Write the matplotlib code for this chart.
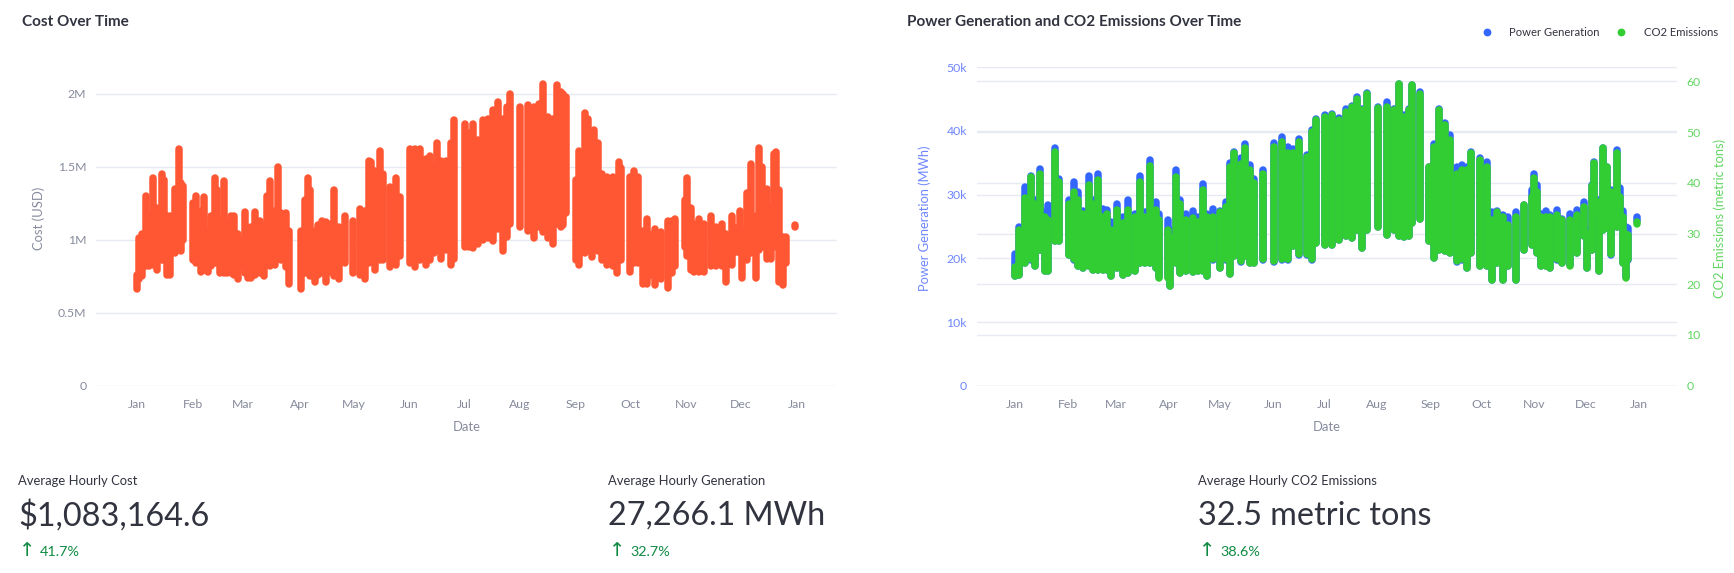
import matplotlib
matplotlib.use('Agg')
import matplotlib.pyplot as plt
from matplotlib.lines import Line2D

W = 1734
H = 573

month_days = [1, 32, 60, 91, 121, 152, 182, 213, 244, 274, 305, 335, 366]
month_names = ['Jan', 'Feb', 'Mar', 'Apr', 'May', 'Jun', 'Jul', 'Aug', 'Sep', 'Oct', 'Nov', 'Dec', 'Jan']

cost_ticks = [0, 0.5, 1, 1.5, 2]
cost_labels = ['0', '0.5M', '1M', '1.5M', '2M']
gen_ticks = [0, 10, 20, 30, 40, 50]
gen_labels = ['0', '10k', '20k', '30k', '40k', '50k']
co2_ticks = [0, 10, 20, 30, 40, 50, 60]

# day of year, then the range of the hourly values over that stretch (million USD)
cost_days = [1, 2.4, 3.9, 6.1, 7.7, 10.1, 12.3, 15.1, 16, 18, 19.7, 22.1, 24.3, 25.8, 26.9,
             32, 34.1, 36.5, 38.1, 40.5, 42.4, 44.2, 45.5, 47.3, 49.2, 51, 53.4, 54.7, 57.1, 58.9,
             60.8, 62.6, 64.5, 66.7, 69.1, 71.3, 73.1, 75, 77.3, 79.2, 81, 83.4, 85.3,
             91.7, 93.9, 95.6, 97, 99.4, 101.3, 103.7, 105.9, 107.7, 110.1, 112.7, 116.2,
             120.6, 124.3, 127.1, 129.5, 130.8, 133.1, 135.4, 137.2, 141.3, 144.6, 146.8,
             152.5, 155.2, 157.8, 161.1, 163.3, 165.7, 167.1, 169.4, 172.1, 175, 176.8,
             182.5, 185.1, 187.3, 189.7, 192.5, 195.2, 198, 201.1, 203.5, 205.7, 207.4,
             213.1, 217.3, 221, 223.8, 226.1, 228.4, 231.5, 233.5, 235.7, 237, 238.6,
             244, 245.9, 249, 250.5, 252.9, 254.1, 256, 258.7, 261.5, 264.3, 266.5, 268, 269,
             273.8, 276.2, 278.6, 280.9, 283.1, 284.5, 287.8, 291, 294.9, 297.4, 299.1,
             304.6, 305.7, 307.5, 309.4, 312.2, 314.9, 318.6, 321.4, 325, 326.9, 330.2, 331.5,
             334.7, 336.1, 338.9, 340.7, 343.5, 345.3, 347.2, 350, 351.8, 353.7, 354.6, 356.4, 358.8, 360.1,
             365.3]
cost_high = [0.76, 1.01, 1.04, 1.30, 1.16, 1.42, 1.22, 1.45, 1.41, 1.16, 1.16, 1.35, 1.62, 1.39, 1.37,
             1.25, 1.30, 1.20, 1.29, 1.06, 1.16, 1.42, 1.34, 1.13, 1.40, 1.11, 1.16, 1.16, 1.04, 1.00,
             1.19, 1.02, 1.09, 1.19, 1.13, 1.09, 1.30, 1.40, 1.20, 1.50, 1.18, 1.18, 1.06,
             1.06, 1.27, 1.42, 1.34, 1.06, 1.10, 1.13, 1.12, 1.11, 1.34, 1.09, 1.16,
             1.13, 1.21, 1.20, 1.54, 1.53, 1.47, 1.61, 1.45, 1.36, 1.42, 1.29,
             1.62, 1.62, 1.62, 1.55, 1.57, 1.50, 1.66, 1.54, 1.54, 1.66, 1.82,
             1.79, 1.73, 1.79, 1.68, 1.82, 1.83, 1.89, 1.94, 1.83, 1.91, 2.00,
             1.91, 1.92, 1.91, 1.93, 2.07, 1.84, 1.83, 2.06, 2.01, 2.00, 1.98,
             1.41, 1.61, 1.87, 1.83, 1.70, 1.75, 1.66, 1.45, 1.43, 1.43, 1.41, 1.53, 1.49,
             1.43, 1.47, 1.43, 1.06, 1.14, 1.04, 1.07, 1.05, 1.13, 1.13, 1.14,
             1.27, 1.42, 1.22, 1.11, 1.14, 1.11, 1.16, 1.09, 1.11, 1.04, 1.16, 1.09,
             1.20, 1.06, 1.32, 1.52, 1.16, 1.63, 1.50, 1.35, 1.22, 1.59, 1.60, 1.34, 1.02, 1.02,
             1.10]
cost_low = [0.66, 0.73, 0.75, 0.82, 0.82, 0.83, 0.79, 0.86, 0.86, 0.76, 0.76, 0.91, 1.02, 0.92, 1.00,
            0.86, 0.84, 0.78, 0.79, 0.78, 0.82, 0.84, 0.84, 0.77, 0.77, 0.77, 0.77, 0.76, 0.73, 0.82,
            0.77, 0.74, 0.74, 0.76, 0.77, 0.75, 0.84, 0.82, 0.83, 0.93, 0.86, 0.81, 0.70,
            0.66, 0.77, 0.82, 0.75, 0.71, 0.76, 0.77, 0.71, 0.78, 0.75, 0.73, 0.84,
            0.77, 0.76, 0.73, 0.84, 0.86, 0.79, 0.86, 0.86, 0.81, 0.83, 0.89,
            0.84, 0.81, 0.86, 0.83, 0.86, 0.91, 0.93, 0.87, 0.93, 0.83, 0.87,
            0.95, 0.95, 0.94, 0.97, 1.00, 1.01, 0.99, 1.07, 0.92, 1.02, 1.11,
            1.09, 1.06, 1.01, 1.09, 1.05, 1.01, 0.97, 1.11, 1.09, 1.10, 1.18,
            0.86, 0.83, 0.91, 0.93, 0.88, 0.95, 0.92, 0.86, 0.83, 0.82, 0.77, 0.86, 0.86,
            0.78, 0.84, 0.84, 0.70, 0.70, 0.75, 0.69, 0.73, 0.67, 0.77, 0.82,
            0.95, 0.89, 0.79, 0.78, 0.78, 0.78, 0.82, 0.82, 0.82, 0.71, 0.83, 0.91,
            0.91, 0.74, 0.86, 0.91, 0.74, 0.93, 0.95, 0.87, 0.87, 0.95, 1.02, 0.71, 0.69, 0.84,
            1.09]

# same idea for generation (thousand MWh) and emissions (metric tons)
gen_days = [1, 3.5, 7, 10.5, 13, 15.7, 18.5, 20.4, 24.5, 27,
            32.8, 35.6, 38.1, 41, 44.5, 46.8, 49.6, 52.7, 55, 57.5,
            60.8, 64.3, 67.2, 71.1, 74.1, 77, 79.9, 83.8, 85.3, 90.6,
            92.1, 95.4, 97.8, 101.3, 105.2, 108, 111, 113.5, 116.8, 121,
            124.6, 126.9, 129.4, 133.3, 135.9, 138.6, 141.1, 146.2, 152.8, 157.3,
            160.9, 163.5, 167.4, 172.2, 175.1, 177.5, 182.3, 186.8, 190.7, 194.6,
            198.4, 201.4, 203.9, 207.2, 213.4, 218.9, 222.8, 225.7, 228.6, 231.5,
            233.5, 238.3, 243.5, 246, 248.9, 252.8, 255.8, 259.7, 262.6, 265.5,
            268, 273.3, 277.2, 280.1, 283, 286.9, 289.8, 294, 298.6, 303.4,
            304.9, 306.3, 308.9, 311.6, 314.1, 318, 320.9, 325.8, 329.6, 334.1,
            336, 338.4, 340, 342.7, 345.2, 347.2, 349.7, 353, 355, 356.9,
            358.3, 359.8, 365.1]
gen_high = [20.7, 24.9, 31.2, 32.9, 29.1, 34.1, 27.3, 28.3, 37.4, 32.5,
            29.1, 32.0, 30.4, 27.5, 32.9, 29.1, 33.3, 27.7, 27.6, 25.7,
            28.5, 26.5, 29.2, 27.0, 32.9, 27.3, 35.5, 28.8, 27.0, 26.0,
            24.4, 33.8, 29.1, 26.9, 27.4, 26.5, 31.7, 27.0, 27.8, 27.5,
            28.8, 34.9, 36.7, 35.7, 38.0, 34.6, 32.5, 33.9, 38.1, 39.1,
            37.5, 37.1, 38.8, 36.2, 40.1, 41.9, 42.5, 42.7, 42.1, 43.4,
            44.0, 45.3, 43.5, 45.9, 43.8, 44.6, 43.5, 47.4, 42.5, 43.5,
            47.2, 46.1, 34.3, 38.0, 43.5, 41.2, 39.3, 34.3, 34.6, 34.3,
            36.7, 35.7, 35.1, 27.3, 27.5, 26.8, 26.5, 27.3, 28.3, 30.7,
            33.3, 31.5, 26.9, 27.5, 26.8, 27.6, 26.2, 26.9, 27.6, 28.8,
            24.4, 31.5, 35.2, 29.1, 37.4, 34.3, 30.7, 37.0, 31.0, 27.5,
            24.9, 24.8, 26.5]
gen_low = [17.3, 17.4, 19.3, 19.8, 18.8, 21.3, 18.0, 18.0, 22.7, 22.7,
           20.5, 19.8, 18.8, 18.5, 18.8, 18.2, 18.1, 18.1, 18.2, 17.2,
           18.5, 17.4, 17.7, 18.0, 19.3, 19.3, 19.3, 18.5, 17.0, 17.0,
           15.7, 19.3, 17.7, 18.0, 17.8, 18.0, 18.0, 17.2, 19.8, 18.5,
           19.8, 17.5, 20.3, 19.5, 20.3, 19.3, 19.3, 19.8, 19.5, 19.8,
           19.8, 21.9, 20.6, 20.6, 19.8, 22.4, 22.1, 22.1, 22.9, 23.5,
           23.2, 24.5, 21.7, 24.5, 25.0, 23.7, 24.5, 23.5, 23.3, 23.5,
           25.6, 26.1, 22.7, 20.1, 21.3, 21.1, 20.9, 19.5, 19.8, 18.5,
           20.9, 18.8, 18.8, 16.6, 19.3, 16.6, 18.8, 16.6, 21.3, 22.1,
           24.5, 20.9, 18.8, 18.8, 18.5, 19.8, 19.3, 18.9, 20.9, 23.5,
           18.5, 21.3, 27.1, 18.0, 24.5, 24.8, 20.6, 25.0, 25.6, 19.3,
           17.0, 19.8, 25.9]
co2_high = [23.4, 30.7, 37.0, 41.1, 35.9, 41.8, 33.3, 32.6, 46.1, 40.2,
            35.9, 38.2, 36.6, 33.9, 39.5, 35.9, 40.5, 33.3, 33.9, 30.7,
            34.6, 32.0, 34.6, 33.3, 40.2, 33.3, 43.4, 34.6, 32.6, 30.7,
            29.3, 41.2, 35.9, 32.6, 33.0, 32.3, 38.6, 33.3, 33.3, 34.3,
            35.3, 43.2, 45.8, 43.8, 46.8, 42.5, 39.9, 41.8, 47.1, 48.1,
            45.8, 45.8, 48.1, 45.1, 50.1, 52.4, 53.0, 53.4, 52.4, 54.0,
            55.0, 56.6, 54.3, 57.5, 54.7, 55.0, 54.3, 59.6, 53.0, 54.3,
            59.3, 57.6, 43.2, 47.1, 54.3, 51.4, 48.4, 41.8, 42.5, 42.5,
            45.8, 44.5, 43.2, 32.6, 34.3, 33.3, 31.6, 33.3, 35.6, 37.2,
            40.9, 38.2, 33.3, 33.3, 33.3, 33.6, 32.6, 32.6, 33.6, 35.3,
            30.0, 39.3, 43.9, 36.2, 46.8, 43.2, 38.2, 45.8, 37.2, 33.3,
            30.0, 29.7, 32.2]
co2_low = [21.7, 21.9, 24.2, 24.9, 23.6, 26.8, 22.6, 22.6, 28.5, 28.5,
           25.7, 24.9, 23.6, 23.2, 23.6, 22.9, 22.8, 22.8, 22.9, 21.6,
           23.2, 21.9, 22.2, 22.6, 24.2, 24.2, 24.2, 23.2, 21.3, 21.3,
           19.7, 24.2, 22.2, 22.6, 22.4, 22.6, 22.6, 21.6, 24.9, 23.2,
           24.9, 22.0, 25.5, 24.5, 25.5, 24.2, 24.2, 24.9, 24.5, 24.9,
           24.9, 27.5, 25.9, 25.9, 24.9, 28.2, 27.8, 27.8, 28.8, 29.5,
           29.1, 30.8, 27.2, 30.8, 31.4, 29.8, 30.8, 29.5, 29.3, 29.5,
           32.1, 32.8, 28.5, 25.2, 26.8, 26.5, 26.2, 24.5, 24.9, 23.2,
           26.2, 23.6, 23.6, 20.9, 24.2, 20.9, 23.6, 20.9, 26.8, 27.8,
           30.8, 26.2, 23.6, 23.6, 23.2, 24.9, 24.2, 23.7, 26.2, 29.5,
           23.2, 26.8, 34.1, 22.6, 30.8, 31.1, 25.9, 31.4, 32.1, 24.2,
           21.3, 24.9, 31.9]

metric_titles = ['Average Hourly Cost', 'Average Hourly Generation', 'Average Hourly CO2 Emissions']
metric_values = ['$1,083,164.6', '27,266.1 MWh', '32.5 metric tons']
metric_deltas = ['41.7%', '32.7%', '38.6%']
metric_x = [18, 608, 1198]

DARK = '#31333F'
GREY = '#868a9c'
GRID = '#e6eaf1'
ORANGE = '#FF5733'
BLUE = '#3366FF'
GREEN = '#32CD32'
DELTA = '#0f8a42'

plt.rcParams['font.family'] = ['Lato', 'DejaVu Sans']


def px_axes(fig, left, top, right, bottom):
    return fig.add_axes([left/W, 1 - bottom/H, (right - left)/W, (bottom - top)/H])


def style(ax):
    for s in ax.spines.values():
        s.set_visible(False)
    ax.tick_params(length=0)
    ax.set_axisbelow(True)


def ftext(x, y, s, **kw):
    kw.setdefault('va', 'center')
    fig.text(x/W, 1 - y/H, s, **kw)


fig = plt.figure(figsize=(W/100, H/100), dpi=100)

# left chart
ax = px_axes(fig, 96, 60, 837, 385.7)
style(ax)
ax.vlines(cost_days, cost_low, cost_high, color=ORANGE, lw=5.4, capstyle='round')
ax.set_xlim(-21.5, 388.5)
ax.set_ylim(0, 2.231)
ax.set_xticks(month_days, month_names, color=GREY, fontsize=8.8)
ax.set_yticks(cost_ticks, cost_labels, color=GREY, fontsize=8.8)
ax.tick_params(axis='x', pad=9.5)
ax.tick_params(axis='y', pad=7)
ax.grid(axis='y', color=GRID, lw=1)

# right chart: three stacked axes so the green sits over the blue and the grids stay behind
ax_r = px_axes(fig, 976.7, 67.3, 1676.7, 385.7)
style(ax_r)
ax_r.yaxis.tick_right()
ax_r.set_xlim(-21.2, 388.2)
ax_r.set_ylim(0, 62.8)
ax_r.set_xticks(month_days, month_names, color=GREY, fontsize=8.8)
ax_r.set_yticks(co2_ticks, [str(t) for t in co2_ticks], color='#62d662', fontsize=8.8)
ax_r.tick_params(axis='x', pad=9.5)
ax_r.tick_params(axis='y', pad=7)
ax_r.grid(axis='y', color=GRID, lw=1)
ax_r.set_zorder(1)

ax_g = px_axes(fig, 976.7, 67.3, 1676.7, 385.7)
style(ax_g)
ax_g.patch.set_visible(False)
ax_g.vlines(gen_days, gen_low, gen_high, color=BLUE, lw=5.4, capstyle='round')
ax_g.set_xlim(-21.2, 388.2)
ax_g.set_ylim(0, 50)
ax_g.set_xticks([])
ax_g.set_yticks(gen_ticks, gen_labels, color='#6f86ff', fontsize=8.8)
ax_g.tick_params(axis='y', pad=7)
ax_g.grid(axis='y', color=GRID, lw=1)
ax_g.set_zorder(2)

ax_c = px_axes(fig, 976.7, 67.3, 1676.7, 385.7)
ax_c.axis('off')
ax_c.vlines(gen_days, co2_low, co2_high, color=GREEN, lw=5.4, capstyle='round')
ax_c.set_xlim(-21.2, 388.2)
ax_c.set_ylim(0, 62.8)
ax_c.set_zorder(3)

handles = [Line2D([], [], ls='', marker='o', ms=4.6, color=BLUE),
           Line2D([], [], ls='', marker='o', ms=4.6, color=GREEN)]
fig.legend(handles, ['Power Generation', 'CO2 Emissions'], ncol=2, frameon=False, fontsize=8.1,
           labelcolor=DARK, loc='center right', bbox_to_anchor=(1718/W, 1 - 32/H),
           handletextpad=1.0, columnspacing=0.9, borderpad=0, borderaxespad=0)

# titles and axis names
ftext(22, 22, 'Cost Over Time', color=DARK, fontsize=11, fontweight='bold')
ftext(907, 22, 'Power Generation and CO2 Emissions Over Time', color=DARK, fontsize=11, fontweight='bold')
ftext(39, 218, 'Cost (USD)', color=GREY, fontsize=9.4, rotation=90, ha='center')
ftext(467, 427, 'Date', color=GREY, fontsize=9.4, ha='center')
ftext(1327, 427, 'Date', color=GREY, fontsize=9.4, ha='center')
ftext(925, 218, 'Power Generation (MWh)', color='#6f86ff', fontsize=9.3, rotation=90, ha='center')
ftext(1720, 218, 'CO2 Emissions (metric tons)', color='#62d662', fontsize=9.3, rotation=90, ha='center')

# metric cards
for x, t, v, d in zip(metric_x, metric_titles, metric_values, metric_deltas):
    ftext(x, 481, t, color=DARK, fontsize=9.4)
    ftext(x, 516, v, color=DARK, fontsize=23.3)
    ftext(x + 9.5, 551, '↑', color=DELTA, fontsize=14, ha='center', family='DejaVu Sans')
    ftext(x + 22, 551.5, d, color=DELTA, fontsize=10.4)

fig.savefig('out.png', dpi=100, facecolor='white')
